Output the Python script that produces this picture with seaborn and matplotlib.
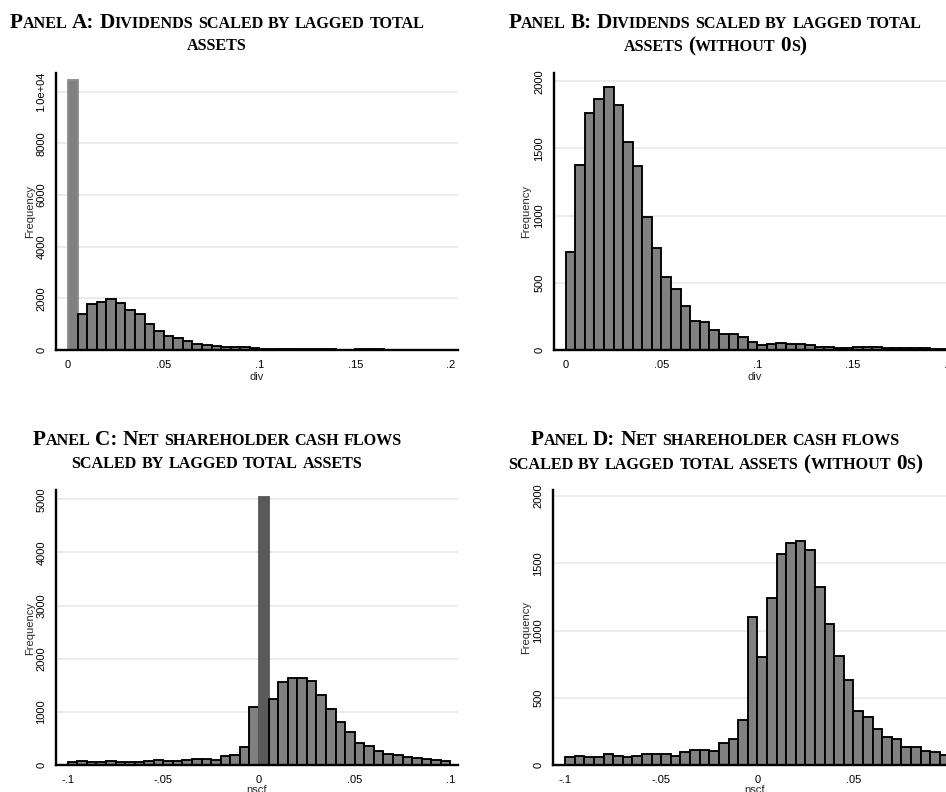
import numpy as np
import pandas as pd
import matplotlib
matplotlib.use("Agg")
import matplotlib.pyplot as plt
import seaborn as sns
from matplotlib.offsetbox import TextArea, HPacker, AnnotationBbox

# ---------------- data ----------------
bin_width = 0.005
div_start = 0.0
nscf_start = -0.1

# Panel A: dividends / lagged TA (with zeros) -> 40 bins from 0 to .2
counts_A = [10450, 1400, 1780, 1870, 1960, 1830, 1530, 1380, 1000, 750,
            545, 455, 330, 220, 210, 150, 116, 118, 99, 62,
            37, 45, 55, 47, 42, 35, 25, 22, 17, 15,
            22, 20, 20, 15, 12, 12, 17, 17, 10, 8]
# Panel B: dividends without zeros
counts_B = [726, 1375, 1767, 1871, 1958, 1822, 1549, 1370, 991, 756,
            545, 456, 330, 216, 211, 149, 116, 119, 99, 62,
            37, 45, 55, 47, 42, 35, 25, 22, 17, 15,
            22, 20, 20, 15, 12, 12, 17, 17, 10, 8]
# Panel C: net shareholder cash flows (with zeros) -> 40 bins from -.1 to .1
counts_C = [50, 69, 50, 50, 69, 62, 50, 62, 69, 94,
            75, 69, 94, 112, 112, 100, 162, 194, 337, 1100,
            5050, 1250, 1562, 1644, 1644, 1581, 1319, 1050, 812, 625,
            406, 362, 269, 200, 194, 144, 125, 106, 100, 81]
# Panel D: without zeros
counts_D = [57, 69, 62, 62, 82, 67, 59, 69, 82, 84,
            79, 69, 94, 114, 114, 106, 163, 193, 334, 1104,
            800, 1245, 1572, 1649, 1663, 1597, 1324, 1047, 809, 629,
            401, 359, 267, 205, 193, 136, 131, 106, 94, 74]

div_ticks = [0, 0.05, 0.1, 0.15, 0.2]
div_ticklabels = ["0", ".05", ".1", ".15", ".2"]
nscf_ticks = [-0.1, -0.05, 0, 0.05, 0.1]
nscf_ticklabels = ["-.1", "-.05", "0", ".05", ".1"]
yticks_A = [0, 2000, 4000, 6000, 8000, 10000]
yticklabels_A = ["0", "2000", "4000", "6000", "8000", "1.0e+04"]
yticks_B = [0, 500, 1000, 1500, 2000]
yticks_C = [0, 1000, 2000, 3000, 4000, 5000]
yticks_D = [0, 500, 1000, 1500, 2000]

titles = {
    "A": ["Panel A: Dividends scaled by lagged total", "assets"],
    "B": ["Panel B: Dividends scaled by lagged total", "assets (without 0s)"],
    "C": ["Panel C: Net shareholder cash flows", "scaled by lagged total assets"],
    "D": ["Panel D: Net shareholder cash flows", "scaled by lagged total assets (without 0s)"],
}

# ---------------- style ----------------
sns.set_style("white")
plt.rcParams["font.family"] = ["Liberation Sans", "DejaVu Sans"]

W, H = 946, 792
fig = plt.figure(figsize=(W / 100, H / 100), dpi=100)
fig.patch.set_facecolor("white")


def px_axes(left, top, right, bottom):
    return fig.add_axes([left / W, 1 - bottom / H, (right - left) / W, (bottom - top) / H])


BAR = "#808080"


def draw_hist(ax, start, counts, xlim, ylim, xticks, xtl, yticks, ytl, xlabel):
    counts = np.asarray(counts, dtype=float)
    n = len(counts)
    centers = start + bin_width * (np.arange(n) + 0.5)
    df = pd.DataFrame({"x": centers, "w": counts})
    sns.histplot(data=df, x="x", weights="w", bins=n,
                 binrange=(start, start + n * bin_width), ax=ax, color=BAR,
                 edgecolor="black", linewidth=1.35, alpha=1.0)
    ax.set_xlim(*xlim)
    ax.set_ylim(*ylim)
    ax.set_xticks(xticks)
    ax.set_xticklabels(xtl)
    ax.set_yticks(yticks)
    ax.set_yticklabels(ytl, rotation=90, va="center")
    ax.yaxis.grid(True, color="#ebebeb", linewidth=1.3)
    ax.xaxis.grid(False)
    ax.set_axisbelow(True)
    for s in ["top", "right"]:
        ax.spines[s].set_visible(False)
    for s in ["left", "bottom"]:
        ax.spines[s].set_color("black")
        ax.spines[s].set_linewidth(1.7)
    ax.tick_params(axis="both", direction="out", length=4, width=1.2,
                   labelsize=8, colors="black", pad=3)
    ax.set_ylabel("Frequency", fontsize=8, va="center")
    ax.set_xlabel(xlabel, fontsize=8, va="center")
    return ax


def smallcaps(text, x_px, y_px, big=15.3, small=11.6):
    words = text.split(" ")
    boxes = []
    for w in words:
        runs = []
        for ch in w:
            s = ch.islower()
            if runs and runs[-1][1] == s:
                runs[-1][0] += ch
            else:
                runs.append([ch, s])
        kids = [TextArea(r.upper() if s else r,
                         textprops=dict(fontsize=small if s else big,
                                        family="Liberation Serif",
                                        weight="bold", color="black"))
                for r, s in runs]
        boxes.append(HPacker(children=kids, align="baseline", pad=0, sep=0))
    line = HPacker(children=boxes, align="baseline", pad=0, sep=3.4)
    ab = AnnotationBbox(line, (x_px / W, 1 - y_px / H), xycoords="figure fraction",
                        frameon=False, box_alignment=(0.5, 0.5), pad=0)
    fig.add_artist(ab)


# Panel A
axA = px_axes(56, 73, 458, 350)
draw_hist(axA, div_start, counts_A, (-0.0063, 0.2037), (0, 10723),
          div_ticks, div_ticklabels, yticks_A, yticklabels_A, "div")
axA.patches[0].set_edgecolor("#8c8c8c")
axA.yaxis.set_label_coords(-0.065, 0.5)
axA.xaxis.set_label_coords(0.5, -0.097)

# Panel B
axB = px_axes(554, 73, 956, 350)
draw_hist(axB, div_start, counts_B, (-0.0061, 0.2037), (0, 2062),
          div_ticks, div_ticklabels, yticks_B, [str(v) for v in yticks_B], "div")
axB.yaxis.set_label_coords(-0.07, 0.5)
axB.xaxis.set_label_coords(0.5, -0.097)

# Panel C
axC = px_axes(56, 490, 458, 765)
draw_hist(axC, nscf_start, counts_C, (-0.1061, 0.104), (0, 5175),
          nscf_ticks, nscf_ticklabels, yticks_C, [str(v) for v in yticks_C], "nscf")
axC.patches[20].set_facecolor("#5a5a5a")
axC.patches[20].set_edgecolor("#5a5a5a")
axC.yaxis.set_label_coords(-0.065, 0.495)
axC.xaxis.set_label_coords(0.5, -0.092)

# Panel D
axD = px_axes(553, 490, 957, 765)
draw_hist(axD, nscf_start, counts_D, (-0.1064, 0.104), (0, 2045),
          nscf_ticks, nscf_ticklabels, yticks_D, [str(v) for v in yticks_D], "nscf")
axD.yaxis.set_label_coords(-0.067, 0.5)
axD.xaxis.set_label_coords(0.5, -0.092)

# Titles
smallcaps(titles["A"][0], 217, 23)
smallcaps(titles["A"][1], 217, 46)
smallcaps(titles["B"][0], 715, 23)
smallcaps(titles["B"][1], 715, 46)
smallcaps(titles["C"][0], 217, 440)
smallcaps(titles["C"][1], 217, 464)
smallcaps(titles["D"][0], 715, 440)
smallcaps(titles["D"][1], 715, 464)

fig.savefig("out.png", dpi=100, facecolor="white")
